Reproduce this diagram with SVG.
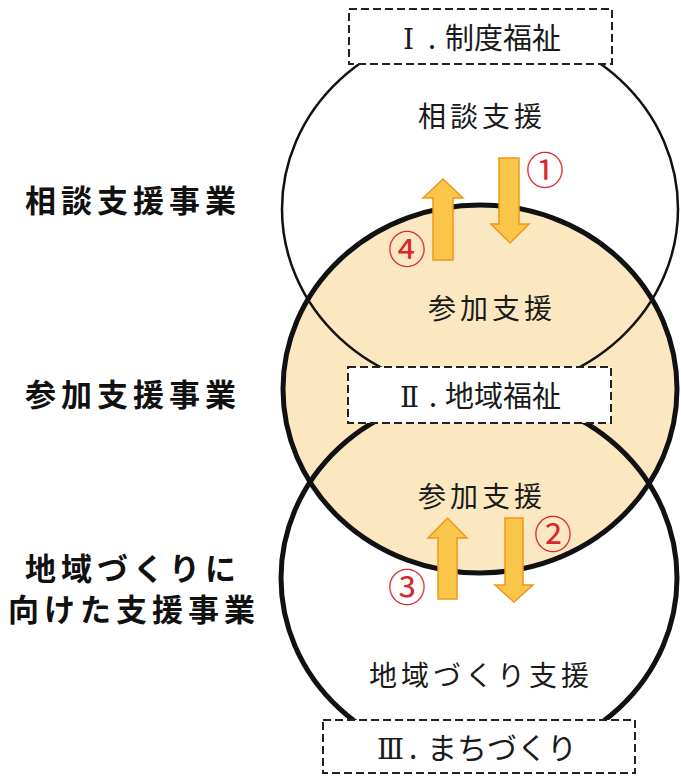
<svg xmlns="http://www.w3.org/2000/svg" width="681" height="776" viewBox="0 0 681 776">
<defs>
<style>
.t{font-family:"Noto Sans CJK JP","Noto Sans",sans-serif;fill:#1a1a1a}
.side{font-size:31px;font-weight:bold;letter-spacing:5px;fill:#111}
.inner{font-size:28px;letter-spacing:4px;text-anchor:middle}
.boxt{font-size:29px}
.rn{font-family:"DejaVu Serif","Liberation Serif","Noto Sans CJK JP",serif;font-size:28px}
.box{fill:#fff;stroke:#222;stroke-width:2;stroke-dasharray:8 4}
.arrow{fill:#fac64a;stroke:#f0961e;stroke-width:1.5;stroke-linejoin:miter}
.num{font-family:"Noto Sans CJK JP",sans-serif;font-size:38px;fill:#d7262e;text-anchor:middle}
</style>
</defs>
<rect width="681" height="776" fill="#fff"/>
<g id="middle-fill"><ellipse cx="480" cy="389" rx="197" ry="184" fill="#fbe8c0"/></g>
<g id="circle-1"><ellipse cx="480" cy="209" rx="198" ry="183" fill="none" stroke="#111" stroke-width="2.5"/></g>
<g id="circle-2"><ellipse cx="480" cy="389" rx="197" ry="184" fill="none" stroke="#111" stroke-width="5"/></g>
<g id="circle-3"><ellipse cx="479" cy="578" rx="198" ry="184" fill="none" stroke="#111" stroke-width="5"/></g>
<g id="box-1"><rect class="box" x="349" y="9" width="263" height="55"/><text class="t boxt" y="49"><tspan class="rn" x="403">Ⅰ</tspan><tspan x="428">.</tspan><tspan x="445">制度福祉</tspan></text></g>
<g id="box-2"><rect class="box" x="348" y="367" width="263" height="56"/><text class="t boxt" y="407"><tspan class="rn" x="400">Ⅱ</tspan><tspan x="429">.</tspan><tspan x="445">地域福祉</tspan></text></g>
<g id="box-3"><rect class="box" x="323" y="720" width="312" height="53"/><text class="t boxt" y="759" style="font-size:30px"><tspan class="rn" x="377">Ⅲ</tspan><tspan x="409">.</tspan><tspan x="427">まちづくり</tspan></text></g>
<g id="label-soudan"><text class="t inner" x="482" y="127">相談支援</text></g>
<g id="label-sanka-1"><text class="t inner" x="492" y="319">参加支援</text></g>
<g id="label-sanka-2"><text class="t inner" x="482" y="507">参加支援</text></g>
<g id="label-chiiki"><text class="t inner" x="481" y="686">地域づくり支援</text></g>
<g id="side-1"><text class="t side" x="25" y="212">相談支援事業</text></g>
<g id="side-2"><text class="t side" x="25" y="406">参加支援事業</text></g>
<g id="side-3"><text class="t side" x="25" y="580">地域づくりに</text><text class="t side" x="8" y="621">向けた支援事業</text></g>
<g id="connectors">
<path class="arrow" d="M499,158 H519 V224 H529 L510,243 L491,224 H499 Z"/>
<path class="arrow" d="M433,260 H453 V198 H463 L443,179 L423,198 H433 Z"/>
<path class="arrow" d="M505,518 H523 V585 H533 L514,602 L495,585 H505 Z"/>
<path class="arrow" d="M438,599 H457 V538 H467 L447.5,518 L428,538 H438 Z"/>
<text class="num" x="545" y="184">①</text>
<text class="num" x="553" y="548">②</text>
<text class="num" x="407" y="601">③</text>
<text class="num" x="407" y="263">④</text>
</g>
</svg>
